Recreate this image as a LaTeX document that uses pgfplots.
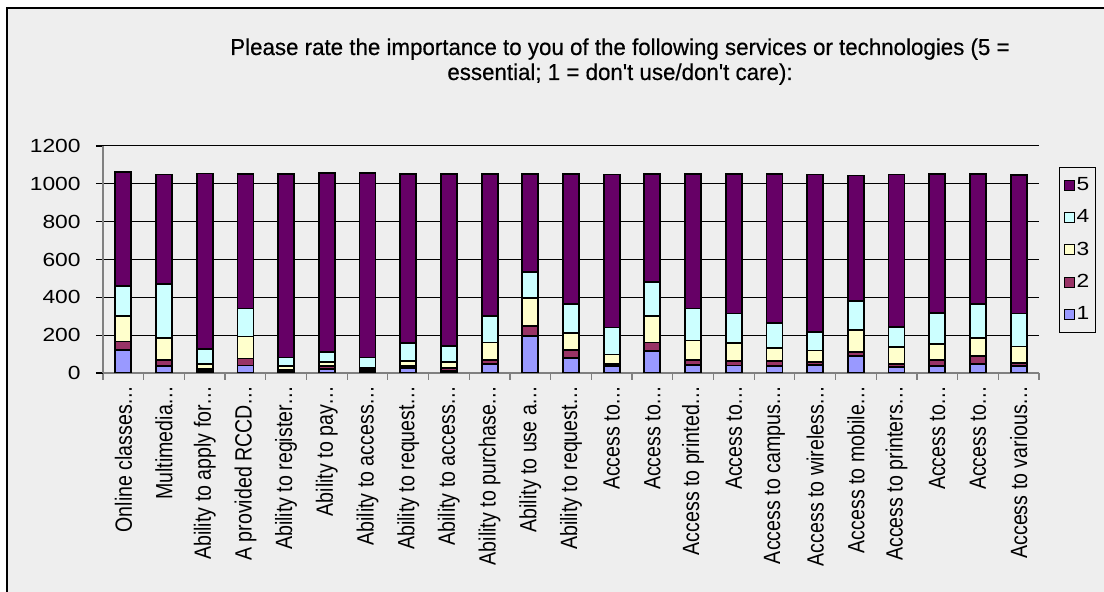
\documentclass[border=0pt]{standalone}
\usepackage{fontspec}
\usepackage{graphicx}
\usepackage{pgfplots}
\usepackage{pgfplotstable}
\pgfplotsset{compat=1.18}
\setmainfont{Liberation Sans}
\newfontfamily\stretchfont[FakeStretch=1.2]{Liberation Sans}
\newfontfamily\titlefont[FakeStretch=0.97,FakeBold=0.5]{Liberation Sans}
\definecolor{bgray}{HTML}{EEEEEE}
\definecolor{cA}{HTML}{9999FF}
\definecolor{cB}{HTML}{993366}
\definecolor{cC}{HTML}{FFFFCC}
\definecolor{cD}{HTML}{CCFFFF}
\definecolor{cE}{HTML}{660066}
\definecolor{axgray}{HTML}{808080}
\newcommand{\Lb}[1]{\scalebox{1}[1.2]{#1}}
\pgfplotstableread{
x s1 s2 s3 s4 s5
0 120 46 137 158 600
1 35 32 117 285 580
2 12 8 27 81 927
3 40 37 116 148 713
4 8 8 22 44 972
5 21 17 18 53 947
6 10 12 4 56 974
7 26 12 27 93 896
8 10 16 30 88 910
9 47 20 94 140 753
10 196 53 149 136 520
11 81 42 87 154 690
12 35 14 49 142 809
13 117 44 140 181 572
14 44 26 102 169 713
15 40 23 95 157 739
16 38 27 68 130 791
17 44 16 59 96 834
18 88 22 118 154 662
19 32 17 88 108 804
20 38 32 82 167 735
21 49 39 96 180 690
22 35 18 87 175 731
}\datatable
\begin{document}
\begin{tikzpicture}
\fill[white] (0,0) rectangle (552pt,296pt);
\fill[bgray] (3.5pt,-5pt) rectangle (560pt,292pt);
\draw[line width=0.9pt] (3.5pt,-5pt) -- (3.5pt,292pt) -- (560pt,292pt);
\node[font=\titlefont\fontsize{11.5}{12.5}\selectfont, anchor=base] at (310pt,268.5pt) {Please rate the importance to you of the following services or technologies (5 =};
\node[font=\titlefont\fontsize{11.5}{12.5}\selectfont, anchor=base] at (310pt,256pt) {essential; 1 = don't use/don't care):};
\begin{axis}[
  at={(51.5pt,109.5pt)}, anchor=south west,
  scale only axis, width=468pt, height=113.5pt,
  ybar stacked, bar width=8pt,
  xmin=-0.5, xmax=22.5, ymin=0, ymax=1200,
  ytick={0,200,...,1200},
  ymajorgrids=true,
  major grid style={black, line width=0.5pt},
  axis x line*=bottom, axis y line*=left,
  axis line style={axgray, line width=0.6pt},
  tick style={axgray, line width=0.6pt},
  tick align=outside,
  ytick style={black},
  major tick length=3.5pt,
  xtick={0,...,22},
  x tick style={draw=none},
  minor xtick={-0.5,0.5,...,22.5},
  minor x tick style={axgray, line width=0.6pt, draw=axgray},
  minor tick length=3.5pt,
  xticklabels={\Lb{Online classes…},\Lb{Multimedia…},\Lb{Ability to apply for…},\Lb{A provided RCCD…},\Lb{Ability to register…},\Lb{Ability to pay…},\Lb{Ability to access…},\Lb{Ability to request…},\Lb{Ability to access…},\Lb{Ability to purchase…},\Lb{Ability to use a…},\Lb{Ability to request…},\Lb{Access to…},\Lb{Access to…},\Lb{Access to printed…},\Lb{Access to…},\Lb{Access to campus…},\Lb{Access to wireless…},\Lb{Access to mobile…},\Lb{Access to printers…},\Lb{Access to…},\Lb{Access to…},\Lb{Access to various…}},
  xticklabel style={rotate=90, anchor=east, inner sep=0pt, font=\fontsize{9.8}{11}\selectfont},
  xticklabel shift=2.5pt,
  yticklabel style={font=\stretchfont\fontsize{9.5}{11}\selectfont, inner sep=0pt},
  yticklabel shift=7.5pt,
  /pgf/number format/assume math mode=true,
  /pgf/number format/1000 sep={},
  every axis plot/.append style={draw=black, line width=0.9pt},
  reverse legend,
  legend style={at={(1.0214,0.907)}, anchor=north west, draw=black, line width=0.6pt, fill=bgray,
    font=\stretchfont\fontsize{9.5}{11}\selectfont, row sep=6pt, inner xsep=2pt, inner ysep=4pt,
    nodes={inner sep=1pt}},
  legend cell align=left,
  legend image code/.code={\draw[#1, line width=0.5pt] (0pt,-2.5pt) rectangle (5pt,2.5pt);},
]
\addplot[fill=cA] table[x=x,y=s1]{\datatable};
\addplot[fill=cB] table[x=x,y=s2]{\datatable};
\addplot[fill=cC] table[x=x,y=s3]{\datatable};
\addplot[fill=cD] table[x=x,y=s4]{\datatable};
\addplot[fill=cE] table[x=x,y=s5]{\datatable};
\legend{1,2,3,4,5}
\end{axis}
\pgfresetboundingbox
\path[use as bounding box] (0,0) rectangle (552pt,296pt);
\end{tikzpicture}
\end{document}
